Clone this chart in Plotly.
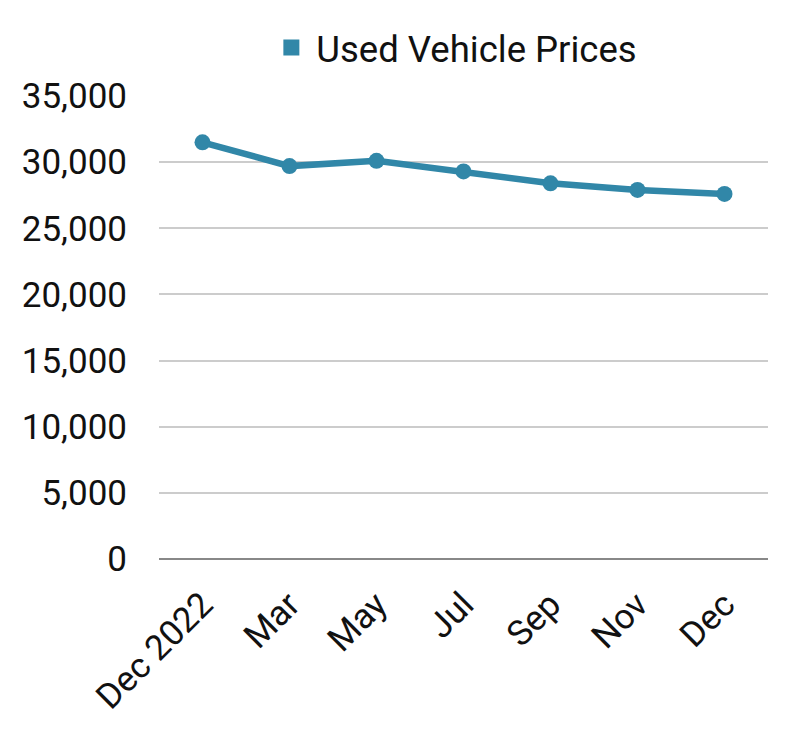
import plotly.graph_objects as go

categories = ["Dec 2022", "Mar", "May", "Jul", "Sep", "Nov", "Dec"]
prices = [31500, 29700, 30100, 29300, 28400, 27900, 27600]
y_ticks = [0, 5000, 10000, 15000, 20000, 25000, 30000, 35000]
y_ticklabels = [f"{v:,}" for v in y_ticks]
series_name = "Used Vehicle Prices"

color = "#3187A8"
xs = list(range(len(categories)))

fig = go.Figure()
fig.add_trace(go.Scatter(
    x=xs, y=prices, mode="lines+markers", name=series_name,
    line=dict(color=color, width=6.5),
    marker=dict(color=color, size=16),
    showlegend=False,
))
fig.add_trace(go.Scatter(
    x=[None], y=[None], mode="markers", name=series_name,
    marker=dict(color=color, size=19, symbol="square"),
    showlegend=True,
))

fig.update_layout(
    width=800, height=740,
    margin=dict(l=159, r=32, t=96, b=181, autoexpand=False),
    paper_bgcolor="white", plot_bgcolor="white",
    font=dict(family="Roboto", size=35, color="#111111"),
    legend=dict(orientation="h", x=0.485, xanchor="center", y=1.104, yanchor="middle",
                font=dict(size=36.5), itemwidth=40),
    xaxis=dict(
        tickmode="array", tickvals=xs, ticktext=categories,
        range=[-0.5, len(categories) - 0.5],
        tickangle=-45, showgrid=False, zeroline=False, showline=False,
        ticks="outside", ticklen=10, tickcolor="rgba(0,0,0,0)",
    ),
    yaxis=dict(
        range=[0, 35000], tickmode="array", tickvals=y_ticks, ticktext=y_ticklabels,
        showgrid=True, gridcolor="#CCCCCC", gridwidth=1.5,
        zeroline=True, zerolinecolor="#888888", zerolinewidth=2,
        showline=False, ticks="outside", ticklen=24, tickcolor="rgba(0,0,0,0)",
    ),
)

fig.write_html("out.html")
